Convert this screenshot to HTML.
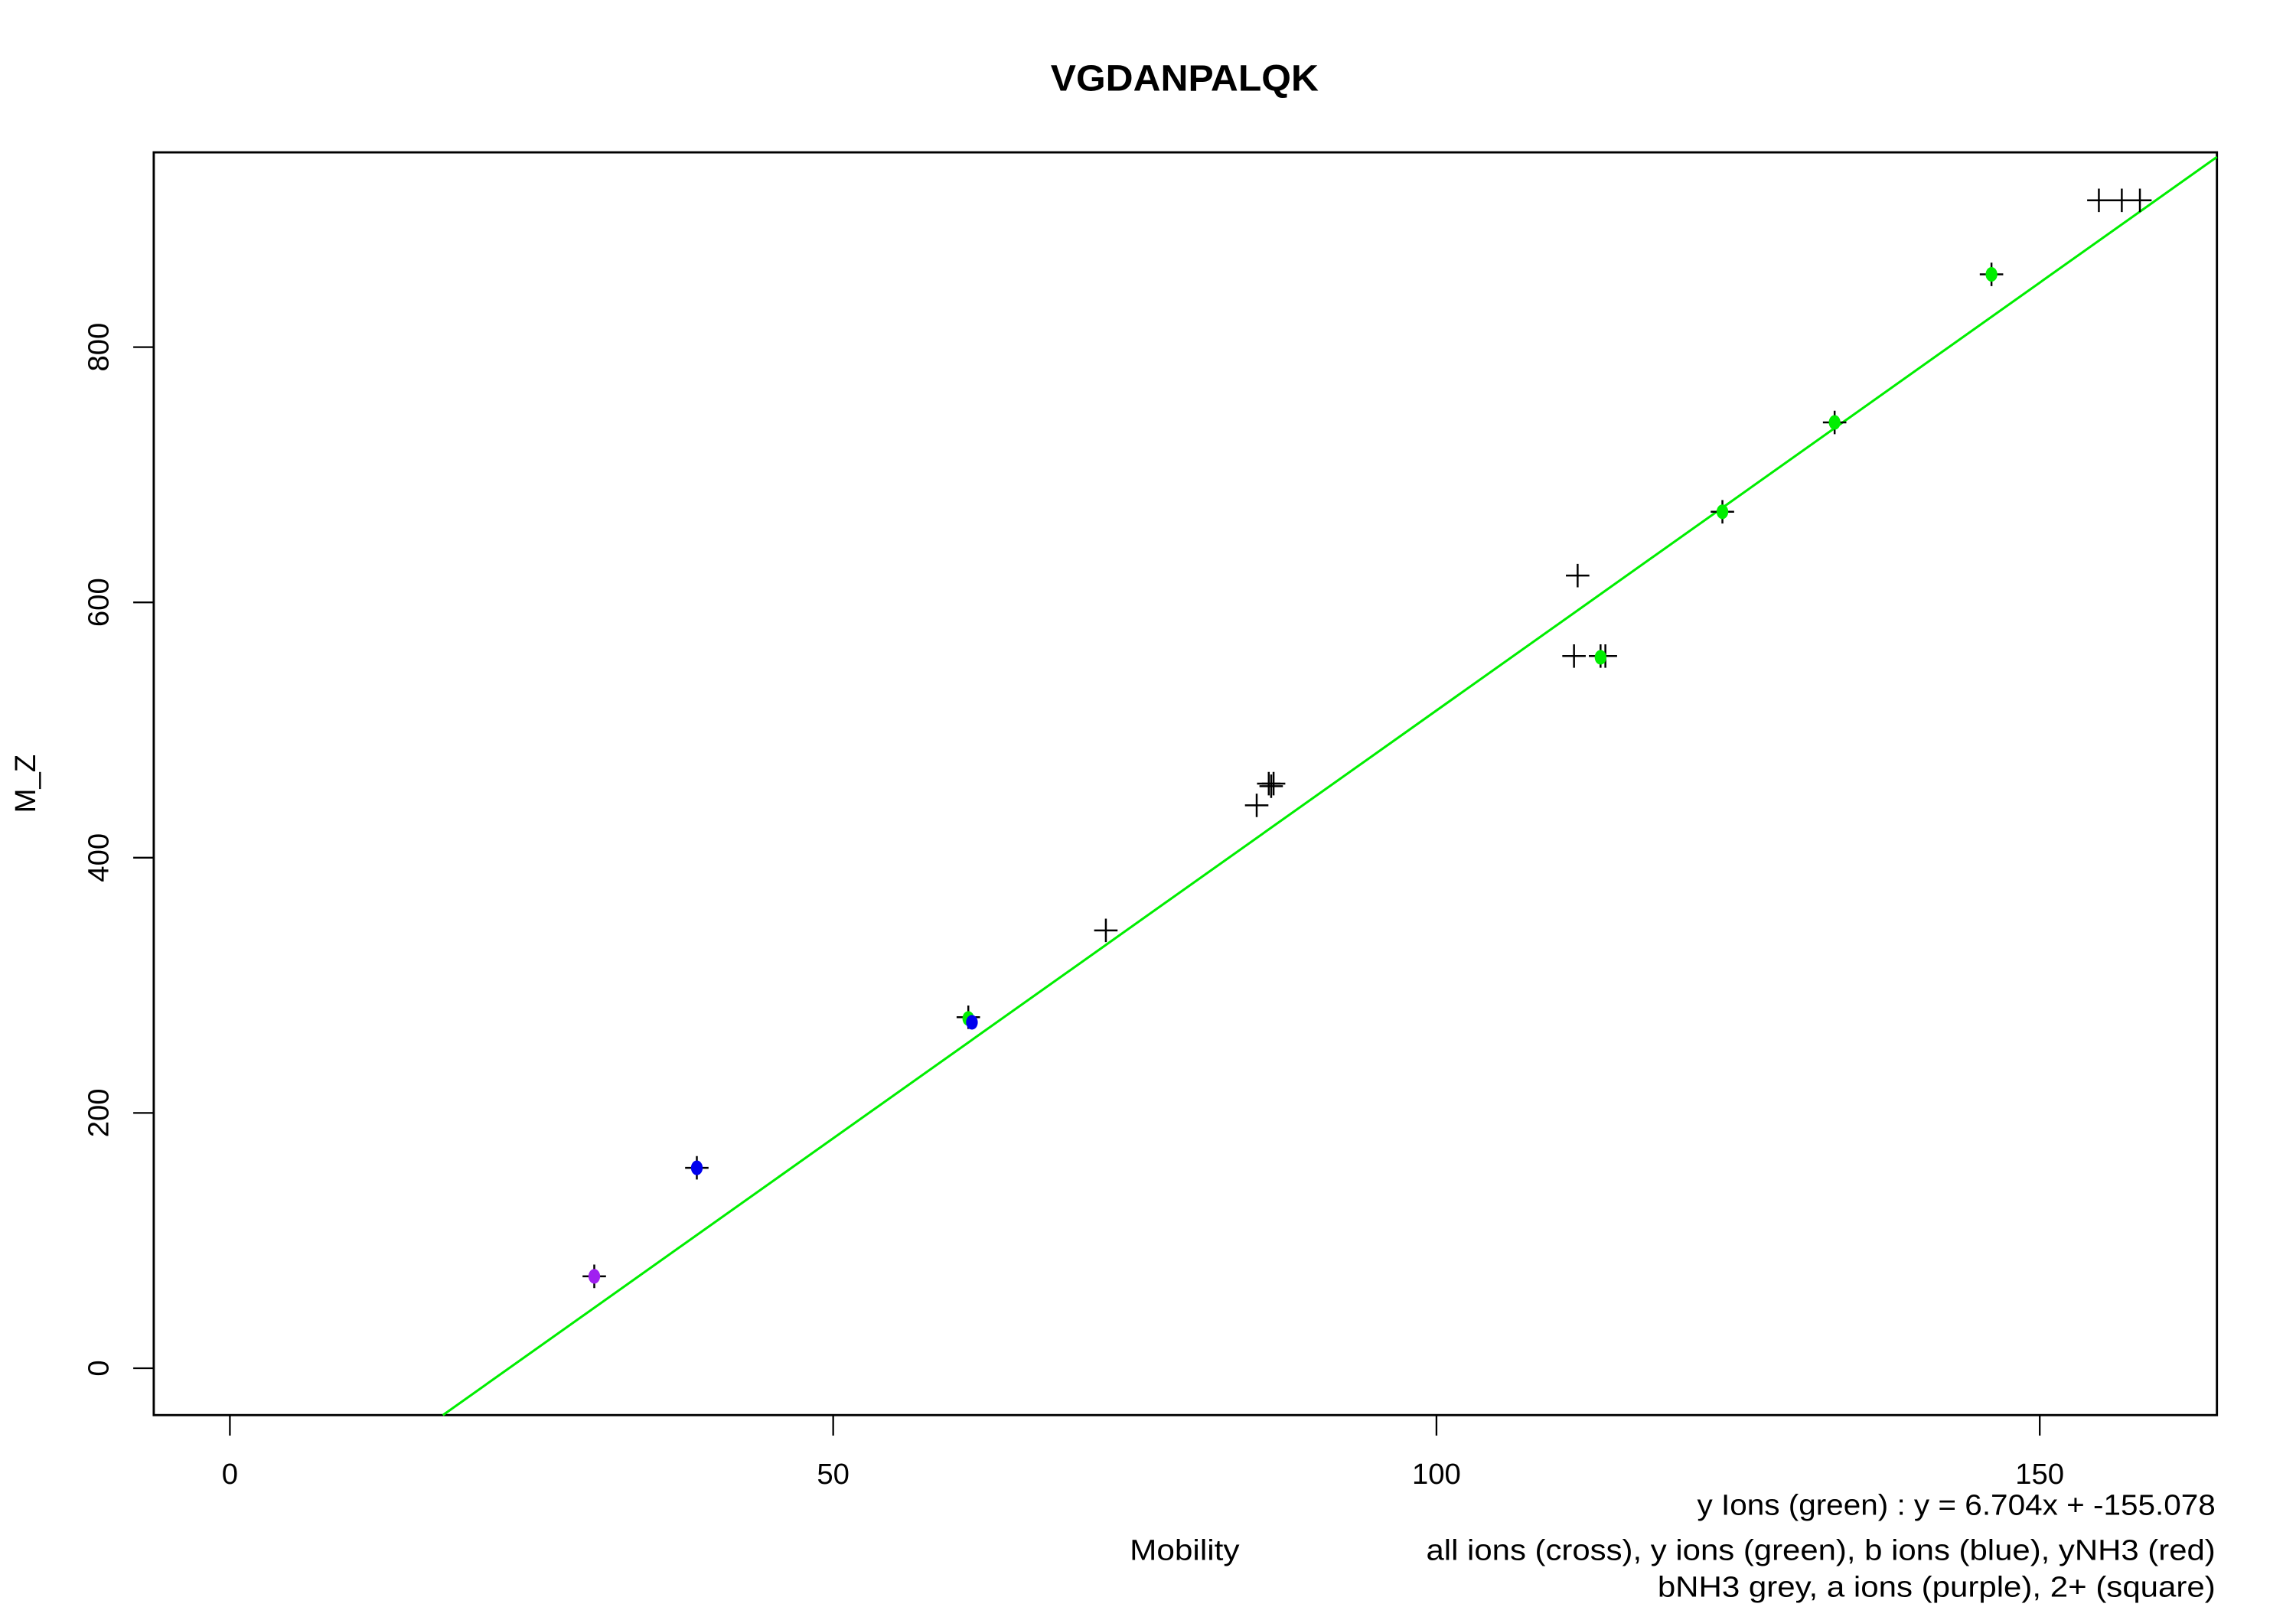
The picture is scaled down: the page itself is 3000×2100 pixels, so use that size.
<!DOCTYPE html>
<html><head><meta charset="utf-8"><style>html,body{margin:0;padding:0;background:#fff}svg{display:block}</style></head>
<body>
<svg id="chart" width="3000" height="2100" viewBox="0 0 1568 1097" preserveAspectRatio="none" xmlns="http://www.w3.org/2000/svg" font-family="Liberation Sans, Arial, sans-serif">
<rect width="1568" height="1097" fill="#fff"/>
<text x="809" y="62" text-anchor="middle" font-size="25" font-weight="bold" textLength="183" lengthAdjust="spacingAndGlyphs">VGDANPALQK</text>
<rect x="105" y="104" width="1409" height="862" fill="none" stroke="#000" stroke-width="1.5"/>
<g id="xaxis"></g>
<g id="yaxis"></g>
<g id="fit"></g>
<g id="pts"></g>
<text x="809" y="1065" text-anchor="middle" font-size="20" textLength="75" lengthAdjust="spacingAndGlyphs">Mobility</text>
<text transform="translate(24,535) rotate(-90)" text-anchor="middle" font-size="20">M_Z</text>
<text x="1513" y="1034" text-anchor="end" font-size="20" textLength="354" lengthAdjust="spacingAndGlyphs">y Ions (green) : y = 6.704x + -155.078</text>
<text x="1513" y="1065" text-anchor="end" font-size="20" textLength="539" lengthAdjust="spacingAndGlyphs">all ions (cross), y ions (green), b ions (blue), yNH3 (red)</text>
<text x="1513" y="1090" text-anchor="end" font-size="20" textLength="381" lengthAdjust="spacingAndGlyphs">bNH3 grey, a ions (purple), 2+ (square)</text>
</svg>
<script>
const xTicks=[0,50,100,150];
const yTicks=[0,200,400,600,800];
const crossX=[30.2,38.7,61.2,72.6,85.1,86.1,86.5,86.3,111.4,111.7,113.6,114.0,123.7,133.0,146.0,154.9,156.8,158.3];
const crossY=[72,157,275,343,441,458,458,456,558,621,558,558,671,741,857,915,915,915];
const greenX=[61.2,113.6,123.7,133.0,146.0];
const greenY=[274,557,671,741,857];
const blueX=[38.7,61.5];
const blueY=[157,271];
const purpleX=[30.2];
const purpleY=[72];
const slope=6.704, intercept=-155.078;
const NS="http://www.w3.org/2000/svg";
const L=105,R=1514,T=104,B=966;
const sx=v=>157+v*8.24;
const sy=v=>934-v*0.8713;
const xmin=(L-157)/8.24,xmax=(R-157)/8.24,ymin=(934-B)/0.8713,ymax=(934-T)/0.8713;
function mk(t,a,p){const e=document.createElementNS(NS,t);for(const k in a)e.setAttribute(k,a[k]);p.appendChild(e);return e;}
const xa=document.getElementById('xaxis'),ya=document.getElementById('yaxis'),fit=document.getElementById('fit'),pts=document.getElementById('pts');
xTicks.forEach(v=>{
 const l=mk('line',{x1:sx(v),x2:sx(v),y1:B,y2:B+14,stroke:'#000','stroke-width':1.2},xa);
 
 
 const t=mk('text',{x:sx(v),y:1013,'text-anchor':'middle','font-size':20},xa);t.textContent=v;
 
 
});
yTicks.forEach(v=>{
 const l=mk('line',{x1:L-14,x2:L,y1:sy(v),y2:sy(v),stroke:'#000','stroke-width':1.2},ya);
 
 
 const t=mk('text',{transform:`translate(74,${sy(v)}) rotate(-90)`,'text-anchor':'middle','font-size':20},ya);t.textContent=v;
 
 
});
let x0=Math.max(xmin,(ymin-intercept)/slope),x1=Math.min(xmax,(ymax-intercept)/slope);
const fl=mk('line',{x1:sx(x0),y1:sy(slope*x0+intercept),x2:sx(x1),y2:sy(slope*x1+intercept),stroke:'#00ee00','stroke-width':1.6},fit);


crossX.forEach((x,i)=>{const cx=sx(x),cy=sy(crossY[i]);
 const p=mk('path',{d:`M${cx-8},${cy}H${cx+8}M${cx},${cy-8}V${cy+8}`,stroke:'#000','stroke-width':1.3,fill:'none'},pts);
 
 });
function dots(xs,ys,col,name){xs.forEach((x,i)=>{const c=mk('ellipse',{cx:sx(x),cy:sy(ys[i]),rx:4,ry:5,fill:col},pts);
 
 });}
dots(greenX,greenY,'#00ee00','y-ion-point');
dots(blueX,blueY,'#0000ee','b-ion-point');
dots(purpleX,purpleY,'#a020f0','a-ion-point');
</script>
</body></html>
